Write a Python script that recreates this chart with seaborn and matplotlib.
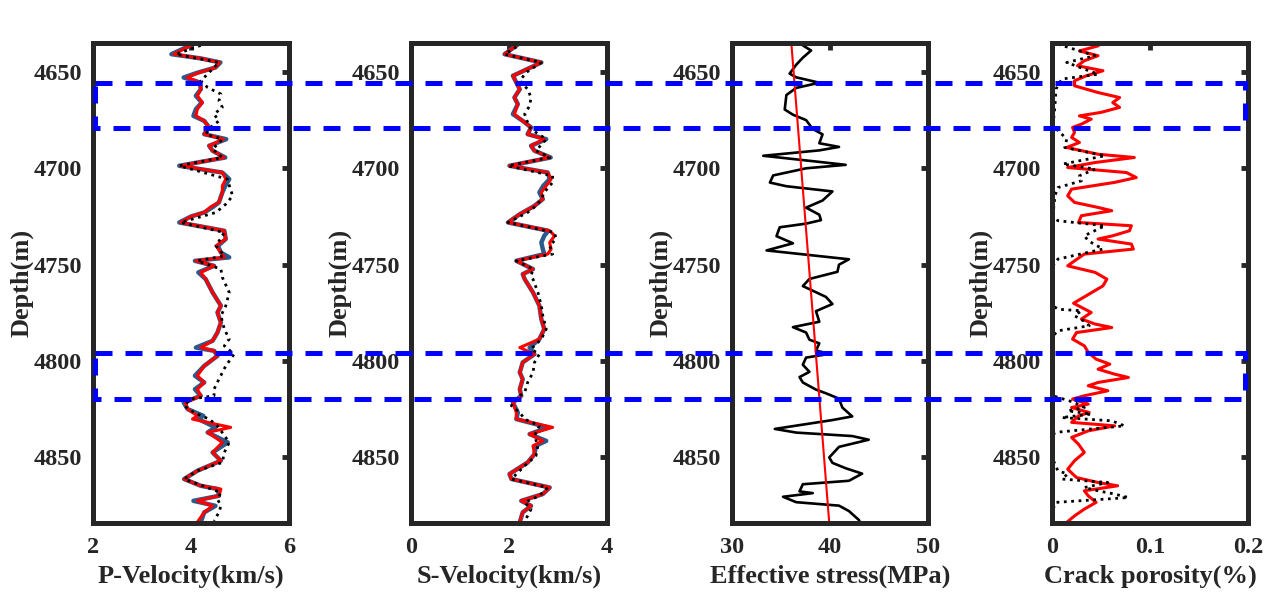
import matplotlib
matplotlib.use('Agg')
import matplotlib.pyplot as plt
import matplotlib.transforms as mtransforms
from matplotlib.patches import Rectangle
import seaborn as sns

# ---- P-velocity (km/s) ----
vp_depth = [4635.0, 4637.5, 4640.8, 4643.0, 4645.1, 4647.7, 4650.5, 4652.9, 4655.5, 4659.0,
            4662.4, 4665.9, 4669.3, 4672.8, 4675.4, 4678.8, 4682.3, 4684.9, 4688.3, 4690.9,
            4694.4, 4698.7, 4702.2, 4705.6, 4709.1, 4712.5, 4717.7, 4720.0, 4722.9, 4725.0,
            4728.1, 4732.4, 4736.7, 4740.2, 4743.7, 4746.2, 4748.0, 4750.6, 4754.0, 4757.5,
            4764.4, 4771.3, 4774.8, 4780.0, 4785.2, 4789.5, 4793.0, 4794.7, 4797.3, 4802.5,
            4807.6, 4811.1, 4814.6, 4818.0, 4821.5, 4824.9, 4828.4, 4830.1, 4834.4, 4837.0,
            4842.2, 4847.4, 4851.7, 4856.9, 4861.2, 4864.7, 4866.4, 4869.9, 4872.5, 4875.1,
            4878.5, 4883.5]
vp_pred = [4.10, 3.90, 3.65, 4.20, 4.58, 4.50, 4.15, 3.92, 4.20, 4.20,
           4.13, 4.23, 4.13, 4.10, 4.27, 4.37, 4.27, 4.66, 4.37, 4.44,
           4.68, 3.79, 4.64, 4.71, 4.64, 4.64, 4.57, 4.40, 4.27, 4.00,
           3.79, 4.68, 4.71, 4.51, 4.61, 4.68, 4.10, 4.47, 4.20, 4.30,
           4.44, 4.61, 4.54, 4.61, 4.54, 4.44, 4.20, 4.47, 4.54, 4.27,
           4.13, 4.27, 4.13, 4.20, 3.89, 3.93, 4.13, 4.03, 4.81, 4.34,
           4.64, 4.44, 4.61, 4.13, 3.86, 4.20, 4.61, 4.57, 4.13, 4.44,
           4.27, 4.13]
vp_log = [4.10, 3.88, 3.60, 4.20, 4.60, 4.50, 4.12, 3.85, 4.18, 4.20,
          4.10, 4.22, 4.10, 4.05, 4.27, 4.37, 4.27, 4.72, 4.37, 4.44,
          4.70, 3.76, 4.64, 4.78, 4.70, 4.64, 4.57, 4.45, 4.27, 4.00,
          3.76, 4.68, 4.71, 4.55, 4.61, 4.78, 4.08, 4.47, 4.15, 4.30,
          4.44, 4.61, 4.54, 4.61, 4.54, 4.44, 4.10, 4.47, 4.54, 4.27,
          4.08, 4.27, 4.08, 4.20, 3.85, 3.93, 4.25, 4.15, 4.50, 4.34,
          4.75, 4.44, 4.61, 4.13, 3.86, 4.20, 4.55, 4.57, 4.05, 4.50,
          4.27, 4.20]
vp_dry_depth = [4635.0, 4640.8, 4645.1, 4650.3, 4654.6, 4658.1, 4661.5, 4665.0, 4668.4, 4671.9,
                4675.4, 4678.8, 4682.3, 4684.9, 4690.1, 4694.4, 4698.7, 4705.6, 4714.3, 4718.6,
                4722.9, 4728.1, 4733.3, 4740.2, 4745.4, 4748.0, 4752.3, 4756.6, 4764.4, 4771.3,
                4776.5, 4783.4, 4788.6, 4792.1, 4796.4, 4802.5, 4809.4, 4814.6, 4818.0, 4819.7,
                4823.2, 4826.7, 4830.1, 4833.6, 4842.2, 4847.4, 4852.6, 4856.9, 4861.2, 4868.2,
                4871.6, 4875.1, 4878.5, 4882.9]
vp_dry = [4.34, 3.69, 4.57, 4.37, 4.20, 4.34, 4.61, 4.57, 4.64, 4.47,
          4.57, 4.40, 4.30, 4.64, 4.44, 4.64, 3.76, 4.74, 4.85, 4.71,
          4.51, 3.79, 4.68, 4.51, 4.68, 4.13, 4.61, 4.64, 4.78, 4.71,
          4.61, 4.68, 4.78, 4.68, 4.88, 4.71, 4.57, 4.47, 4.47, 3.99,
          3.86, 4.06, 4.37, 4.54, 4.78, 4.68, 4.64, 4.13, 3.86, 4.61,
          4.54, 4.61, 4.57, 4.47]

# ---- S-velocity (km/s) ----
vs_depth = [4635.0, 4640.8, 4645.1, 4652.0, 4655.5, 4659.0, 4663.3, 4666.7, 4671.9, 4675.4,
            4678.8, 4682.3, 4684.9, 4688.3, 4690.9, 4694.4, 4698.7, 4702.2, 4705.6, 4709.1,
            4712.5, 4716.0, 4719.5, 4723.8, 4728.1, 4732.4, 4735.0, 4738.5, 4741.9, 4744.5,
            4748.0, 4752.3, 4754.9, 4757.5, 4764.4, 4771.3, 4778.3, 4783.4, 4788.6, 4793.0,
            4796.4, 4800.7, 4805.9, 4809.4, 4814.6, 4818.0, 4821.5, 4826.7, 4830.1, 4834.4,
            4837.9, 4841.4, 4843.9, 4848.3, 4852.6, 4858.6, 4861.2, 4865.6, 4869.0, 4872.5,
            4875.1, 4878.5, 4883.5]
vs_pred = [2.22, 1.91, 2.66, 2.08, 2.15, 2.22, 2.11, 2.18, 2.11, 2.28,
           2.45, 2.38, 2.72, 2.45, 2.52, 2.83, 2.01, 2.79, 2.86, 2.76,
           2.66, 2.69, 2.52, 2.22, 1.98, 2.83, 2.93, 2.83, 2.86, 2.79,
           2.15, 2.49, 2.28, 2.32, 2.49, 2.62, 2.66, 2.72, 2.62, 2.22,
           2.52, 2.28, 2.22, 2.28, 2.22, 2.25, 2.08, 2.15, 2.15, 2.89,
           2.42, 2.69, 2.49, 2.52, 2.38, 2.01, 2.05, 2.83, 2.69, 2.25,
           2.45, 2.28, 2.22]
vs_log = [2.22, 1.91, 2.66, 2.08, 2.15, 2.22, 2.11, 2.18, 2.08, 2.28,
          2.45, 2.38, 2.76, 2.45, 2.52, 2.85, 2.01, 2.79, 2.83, 2.70,
          2.62, 2.69, 2.52, 2.22, 1.98, 2.80, 2.72, 2.66, 2.69, 2.72,
          2.15, 2.49, 2.28, 2.32, 2.49, 2.62, 2.66, 2.72, 2.62, 2.42,
          2.52, 2.28, 2.22, 2.28, 2.22, 2.25, 2.08, 2.18, 2.15, 2.80,
          2.42, 2.76, 2.55, 2.52, 2.38, 2.01, 2.05, 2.83, 2.69, 2.25,
          2.45, 2.28, 2.22]
vs_dry_depth = [4635.0, 4640.8, 4645.1, 4650.3, 4654.6, 4659.0, 4663.3, 4667.6, 4671.9, 4676.2,
                4679.7, 4684.9, 4690.9, 4694.4, 4698.7, 4703.9, 4707.3, 4712.5, 4716.0, 4719.5,
                4722.9, 4728.1, 4733.3, 4736.7, 4740.2, 4744.5, 4748.0, 4752.3, 4755.8, 4757.5,
                4764.4, 4771.3, 4776.5, 4783.4, 4788.6, 4793.8, 4796.4, 4800.7, 4805.9, 4811.1,
                4816.3, 4819.7, 4823.2, 4826.7, 4830.1, 4833.6, 4838.8, 4843.9, 4849.1, 4854.3,
                4861.2, 4865.6, 4869.9, 4873.3, 4876.8, 4880.3, 4882.9]
vs_dry = [2.28, 1.91, 2.66, 2.35, 2.22, 2.38, 2.45, 2.42, 2.32, 2.38,
          2.45, 2.76, 2.55, 2.83, 1.98, 2.89, 2.89, 2.72, 2.66, 2.55,
          2.38, 1.98, 2.93, 2.96, 2.83, 2.89, 2.15, 2.49, 2.45, 2.49,
          2.59, 2.66, 2.69, 2.76, 2.66, 2.45, 2.62, 2.52, 2.49, 2.38,
          2.32, 2.11, 2.05, 2.22, 2.32, 2.62, 2.52, 2.59, 2.55, 2.32,
          2.05, 2.79, 2.62, 2.32, 2.45, 2.38, 2.32]

# ---- Effective stress (MPa) ----
es_depth = [4634.8, 4635.5, 4638.9, 4642.6, 4646.3, 4650.9, 4652.8, 4655.6, 4658.3, 4662.0,
            4669.5, 4672.2, 4675.0, 4679.6, 4682.4, 4687.0, 4688.9, 4690.7, 4693.5, 4696.3,
            4698.2, 4700.0, 4703.7, 4707.4, 4709.3, 4712.0, 4716.7, 4720.4, 4724.1, 4726.9,
            4728.7, 4730.6, 4735.2, 4738.9, 4742.6, 4747.2, 4750.0, 4753.7, 4757.4, 4761.1,
            4766.7, 4770.4, 4774.1, 4779.6, 4782.4, 4785.2, 4788.9, 4790.8, 4794.5, 4796.3,
            4798.2, 4801.9, 4805.6, 4808.3, 4811.1, 4814.8, 4816.7, 4819.5, 4824.1, 4828.7,
            4830.6, 4835.2, 4837.1, 4838.9, 4840.8, 4844.5, 4850.0, 4852.8, 4855.6, 4858.4,
            4862.1, 4863.9, 4867.6, 4868.5, 4870.4, 4873.2, 4875.0, 4877.8, 4882.4, 4884.0]
es_log = [40.1, 37.0, 38.07, 37.23, 36.55, 35.88, 36.55, 38.91, 36.55, 35.55,
          35.38, 36.22, 37.56, 38.24, 39.24, 38.91, 40.92, 38.91, 33.19, 38.24,
          41.60, 37.56, 34.20, 33.87, 35.55, 40.25, 39.24, 37.56, 38.91, 39.08,
          37.56, 34.87, 34.54, 36.22, 33.53, 41.93, 40.92, 40.76, 37.90, 37.23,
          39.58, 40.25, 38.57, 38.91, 36.22, 37.56, 37.90, 38.91, 38.57, 39.92,
          37.56, 37.23, 37.90, 36.89, 37.23, 38.57, 39.58, 40.92, 41.26, 42.27,
          40.25, 34.37, 36.55, 42.27, 43.95, 40.92, 39.92, 40.25, 41.60, 43.28,
          41.93, 37.23, 36.89, 38.24, 35.21, 36.55, 40.92, 41.93, 42.94, 43.11]
es_trend_depth = [4634.8, 4883.8]
es_trend = [36.05, 39.92]

# ---- Crack porosity (%) ----
cp_depth = [4635.0, 4636.5, 4639.1, 4641.6, 4644.2, 4646.8, 4649.4, 4652.0, 4654.6, 4657.2,
            4660.7, 4663.3, 4665.9, 4668.4, 4671.0, 4672.8, 4674.5, 4677.1, 4678.8, 4681.4,
            4684.0, 4686.6, 4689.2, 4692.7, 4694.4, 4697.0, 4699.6, 4702.2, 4704.8, 4707.3,
            4710.8, 4714.3, 4717.7, 4720.3, 4722.0, 4724.6, 4728.1, 4729.8, 4732.4, 4735.0,
            4736.7, 4739.3, 4741.9, 4744.5, 4748.0, 4750.6, 4754.0, 4757.5, 4761.0, 4770.0,
            4774.8, 4778.2, 4780.8, 4782.6, 4785.2, 4788.6, 4792.1, 4795.5, 4799.0, 4801.6,
            4804.2, 4806.8, 4808.5, 4811.1, 4812.8, 4815.4, 4818.0, 4819.7, 4822.3, 4824.1,
            4826.7, 4828.4, 4831.8, 4833.6, 4836.2, 4839.6, 4843.1, 4847.4, 4851.7, 4856.1,
            4860.4, 4863.0, 4864.7, 4867.3, 4869.9, 4873.3, 4876.8, 4880.3, 4883.7]
cp_pred = [0.050, 0.047, 0.028, 0.047, 0.033, 0.026, 0.052, 0.035, 0.023, 0.023,
           0.047, 0.069, 0.062, 0.069, 0.050, 0.028, 0.040, 0.030, 0.021, 0.023,
           0.020, 0.028, 0.015, 0.047, 0.084, 0.044, 0.016, 0.076, 0.086, 0.064,
           0.020, 0.016, 0.023, 0.047, 0.061, 0.030, 0.027, 0.081, 0.079, 0.062,
           0.047, 0.081, 0.083, 0.033, 0.023, 0.016, 0.044, 0.056, 0.052, 0.022,
           0.040, 0.030, 0.044, 0.061, 0.025, 0.021, 0.033, 0.037, 0.045, 0.059,
           0.047, 0.064, 0.078, 0.047, 0.037, 0.057, 0.033, 0.021, 0.037, 0.020,
           0.038, 0.027, 0.020, 0.064, 0.037, 0.020, 0.027, 0.033, 0.023, 0.016,
           0.025, 0.047, 0.067, 0.033, 0.037, 0.045, 0.033, 0.023, 0.015]
cp_dry_depth = [4635.6, 4641.6, 4645.1, 4651.2, 4653.7, 4658.9, 4667.6, 4678.0, 4682.3, 4684.9,
                4689.2, 4693.5, 4697.8, 4700.4, 4703.9, 4706.5, 4710.0, 4714.3, 4724.6, 4727.2,
                4729.8, 4735.0, 4737.6, 4741.9, 4747.1, 4750.6, 4771.3, 4773.1, 4773.9, 4776.5,
                4779.1, 4781.7, 4784.3, 4786.9, 4818.0, 4821.5, 4824.1, 4825.8, 4827.5, 4829.3,
                4831.0, 4833.6, 4837.0, 4838.8, 4850.9, 4853.5, 4856.9, 4858.6, 4861.2, 4863.0,
                4865.6, 4867.3, 4869.0, 4870.8, 4873.3, 4876.8, 4883.7]
cp_dry = [0.006, 0.044, 0.015, 0.047, 0.010, 0.004, 0.003, 0.001, 0.010, 0.015,
          0.013, 0.054, 0.011, 0.044, 0.028, 0.030, 0.006, 0.003, 0.001, 0.006,
          0.054, 0.033, 0.037, 0.052, 0.006, 0.001, 0.001, 0.006, 0.030, 0.023,
          0.032, 0.038, 0.006, 0.001, 0.001, 0.023, 0.033, 0.016, 0.040, 0.010,
          0.061, 0.074, 0.003, 0.001, 0.001, 0.003, 0.006, 0.016, 0.010, 0.057,
          0.033, 0.047, 0.064, 0.078, 0.004, 0.001, 0.001]

# blue boxes (depth intervals)
zone_top = [4655.5, 4796.0]
zone_bottom = [4679.3, 4819.5]

x_labels = ['P-Velocity(km/s)', 'S-Velocity(km/s)', 'Effective stress(MPa)', 'Crack porosity(%)']
x_limits = [(2, 6), (0, 4), (30, 50), (0, 0.2)]
x_ticks = [[2, 4, 6], [0, 2, 4], [30, 40, 50], [0, 0.1, 0.2]]
x_ticklabels = [['2', '4', '6'], ['0', '2', '4'], ['30', '40', '50'], ['0', '0.1', '0.2']]
depth_ticks = [4650, 4700, 4750, 4800, 4850]

sns.set_theme(style='white')
plt.rcParams['font.family'] = ['Liberation Serif', 'DejaVu Serif']
plt.rcParams['font.weight'] = 'bold'
plt.rcParams['axes.labelweight'] = 'bold'

W, H = 1279, 592
fig = plt.figure(figsize=(W / 100, H / 100), dpi=100)
lefts = [93, 411, 732, 1052]
axes = [fig.add_axes([l / W, 1 - 523 / H, 196 / W, 480 / H]) for l in lefts]

RED = '#ff0000'
LOGBLUE = '#2c5a8a'


def curve(ax, x, y, **kw):
    sns.lineplot(x=x, y=y, sort=False, estimator=None, legend=False, ax=ax, **kw)


ax = axes[0]
curve(ax, vp_log, vp_depth, color=LOGBLUE, linewidth=3.2)
curve(ax, vp_pred, vp_depth, color=RED, linewidth=2.2)
curve(ax, vp_dry, vp_dry_depth, color='black', linewidth=2.0, linestyle=':')

ax = axes[1]
curve(ax, vs_log, vs_depth, color=LOGBLUE, linewidth=3.2)
curve(ax, vs_pred, vs_depth, color=RED, linewidth=2.2)
curve(ax, vs_dry, vs_dry_depth, color='black', linewidth=2.0, linestyle=':')

ax = axes[2]
curve(ax, es_log, es_depth, color='black', linewidth=1.9)
curve(ax, es_trend, es_trend_depth, color=RED, linewidth=1.5)

ax = axes[3]
curve(ax, cp_pred, cp_depth, color=RED, linewidth=2.2)
curve(ax, cp_dry, cp_dry_depth, color='black', linewidth=2.0, linestyle=':')

for i, ax in enumerate(axes):
    ax.set_xlim(*x_limits[i])
    ax.set_xticks(x_ticks[i])
    ax.set_xticklabels(x_ticklabels[i])
    ax.set_ylim(4884, 4635)
    ax.set_yticks(depth_ticks)
    ax.set_xlabel(x_labels[i], fontsize=19, color='#262626', labelpad=5)
    ax.set_ylabel('Depth(m)', fontsize=19, color='#262626', labelpad=0)
    for sp in ax.spines.values():
        sp.set_linewidth(3.6)
        sp.set_color('#262626')
    ax.tick_params(direction='in', length=5, width=3.5, top=True, right=True,
                   colors='#262626', labelsize=17.5)
    ax.tick_params(axis='x', pad=10)
    ax.tick_params(axis='y', pad=8)

trans = mtransforms.blended_transform_factory(fig.transFigure, axes[0].transData)
x0, x1 = 95 / W, 1245 / W
for top, bot in zip(zone_top, zone_bottom):
    box = Rectangle((x0, top), x1 - x0, bot - top, transform=trans, fill=False,
                    edgecolor='#0000ff', linewidth=3.6, linestyle=(0, (3.4, 2.6)),
                    clip_on=False, zorder=10)
    fig.add_artist(box)

fig.savefig('out.png', dpi=100)
